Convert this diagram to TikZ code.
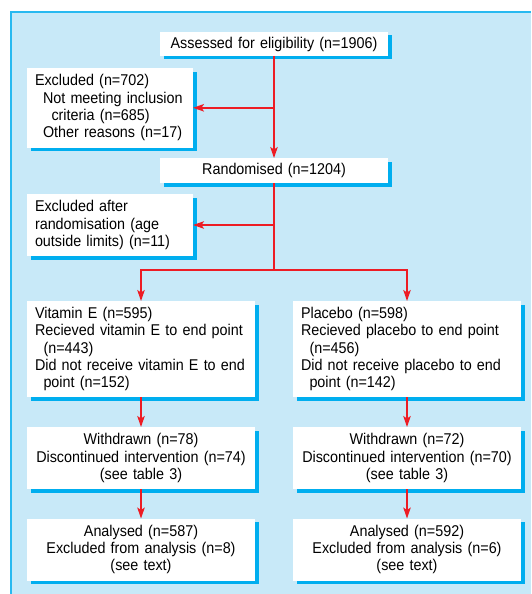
\documentclass[tikz,border=0pt]{standalone}
\usepackage{fontspec}
\setmainfont[FakeStretch=0.92]{Liberation Sans}
\usetikzlibrary{arrows.meta,shadows}
\definecolor{panel}{RGB}{200,233,248}
\definecolor{edge}{RGB}{40,185,240}
\definecolor{shade}{RGB}{0,174,239}
\definecolor{arr}{RGB}{237,28,36}
\begin{document}
\begin{tikzpicture}[x=1pt,y=-1pt,
  box/.style={fill=white, inner xsep=8pt, inner ysep=0pt, outer sep=0pt,
    drop shadow={shadow xshift=3.5pt, shadow yshift=-3.5pt, fill=shade, opacity=1},
    font=\fontsize{15.6}{17.3}\selectfont},
  widebox/.style={box, minimum width=228pt, text width=212pt},
  sidebox/.style={box, minimum width=166pt, text width=150pt, align=left},
  flow/.style={draw=arr, line width=1.5pt, -{Stealth[length=11pt,width=7.5pt,inset=2.5pt]}},
  plain/.style={draw=arr, line width=1.5pt}
]
\useasboundingbox (0,0) rectangle (531,594);
\fill[panel] (10,11) rectangle (531,594);
\draw[edge, line width=2pt] (11,594) -- (11,12) -- (531,12);

\node[widebox, minimum height=24pt, align=center] (elig) at (274,44) {Assessed for eligibility (n=1906)};
\node[sidebox, minimum height=79.5pt] (excl1) at (110,107.8) {Excluded (n=702)\\
\hspace*{8pt}Not meeting inclusion\\
\hspace*{16.5pt}criteria (n=685)\\
\hspace*{8pt}Other reasons (n=17)};
\node[widebox, minimum height=25pt, align=center] (rand) at (274,170.5) {Randomised (n=1204)};
\node[sidebox, minimum height=62pt] (excl2) at (110,225) {Excluded after\\ randomisation (age\\ outside limits) (n=11)};

\node[widebox, minimum height=96pt, align=left] (vit) at (141,349) {Vitamin E (n=595)\\
Recieved vitamin E to end point\\
\hspace*{8.5pt}(n=443)\\
Did not receive vitamin E to end\\
\hspace*{8.5pt}point (n=152)};
\node[widebox, minimum height=96pt, align=left] (plc) at (407,349) {Placebo (n=598)\\
Recieved placebo to end point\\
\hspace*{8.5pt}(n=456)\\
Did not receive placebo to end\\
\hspace*{8.5pt}point (n=142)};

\node[widebox, minimum height=62pt, align=center] (wd1) at (141,458) {Withdrawn (n=78)\\ Discontinued intervention (n=74)\\ (see table 3)};
\node[widebox, minimum height=62pt, align=center] (wd2) at (407,458) {Withdrawn (n=72)\\ Discontinued intervention (n=70)\\ (see table 3)};
\node[widebox, minimum height=62pt, align=center] (an1) at (141,549.5) {Analysed (n=587)\\ Excluded from analysis (n=8)\\ (see text)};
\node[widebox, minimum height=62pt, align=center] (an2) at (407,549.5) {Analysed (n=592)\\ Excluded from analysis (n=6)\\ (see text)};

\coordinate (split) at (274,270);
\draw[flow] (elig.south) -- (rand.north);
\draw[flow] (elig.south |- excl1.east) -- (excl1.east);
\draw[plain] (rand.south) -- (split);
\draw[flow] (rand.south |- excl2.east) -- (excl2.east);
\draw[flow] (split) -| (vit.north);
\draw[flow] (split) -| (plc.north);
\draw[flow] (vit.south) -- (wd1.north);
\draw[flow] (plc.south) -- (wd2.north);
\draw[flow] (wd1.south) -- (an1.north);
\draw[flow] (wd2.south) -- (an2.north);
\end{tikzpicture}
\end{document}
